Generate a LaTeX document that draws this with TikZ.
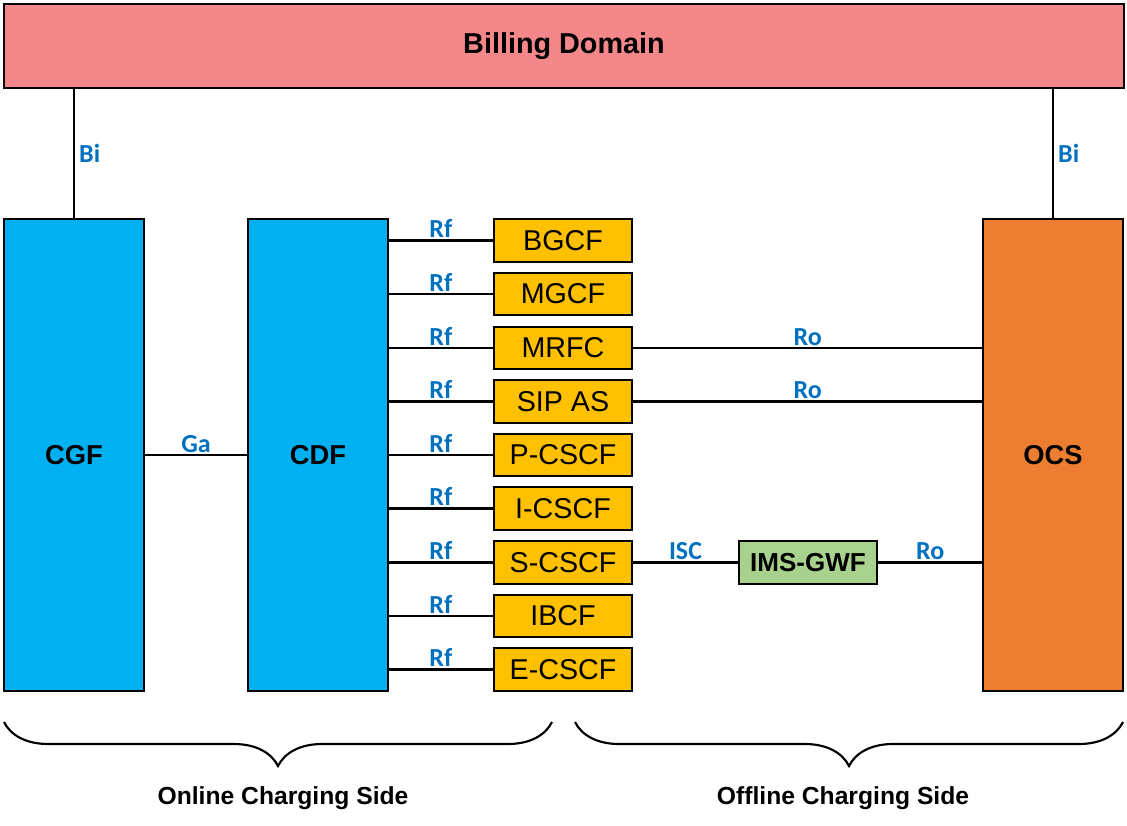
\documentclass[tikz,border=0pt]{standalone}
\usepackage{fontspec}
\setmainfont{Liberation Sans}
\newfontfamily\lblfont{Carlito}
\usetikzlibrary{positioning,decorations.pathreplacing}
\definecolor{billred}{HTML}{F4878A}
\definecolor{cfblue}{HTML}{00B0F0}
\definecolor{ocsorange}{HTML}{ED7D31}
\definecolor{nodeyellow}{HTML}{FFC000}
\definecolor{gwfgreen}{HTML}{A9D18E}
\definecolor{ifblue}{HTML}{0070C0}
\begin{document}
\begin{tikzpicture}[x=0.75pt,y=-0.75pt]
\tikzset{
  bigbox/.style={draw,line width=1.4pt,fill=cfblue,minimum width=105pt,minimum height=354pt,font=\fontsize{20.5}{24}\selectfont\bfseries},
  fbox/.style={draw,line width=1.4pt,fill=nodeyellow,minimum width=104pt,minimum height=32pt,inner sep=0pt,font=\fontsize{21.5}{25}\selectfont},
  ifl/.style={text=ifblue,font=\lblfont\fontsize{19.5}{23}\selectfont\bfseries,inner sep=1pt},
  conn/.style={line width=1.8pt},
  sidebrace/.style={line width=1.6pt,decorate,decoration={brace,mirror,amplitude=33pt}},
  sidelab/.style={font=\fontsize{18.5}{22}\selectfont\bfseries}
}
\useasboundingbox (0,0) rectangle (1127,825);
\node[draw,line width=1.4pt,fill=billred,minimum width=840pt,minimum height=63pt,font=\fontsize{21.6}{25}\selectfont\bfseries] (bd) at (564,46) {Billing Domain};
\node[bigbox] (cgf) at (74,455) {CGF};
\node[bigbox] (cdf) at (318,455) {CDF};
\node[bigbox,fill=ocsorange] (ocs) at (1053,455) {OCS};
\node[fbox] (bgcf) at (563,240.5) {BGCF};
\node[fbox] (mgcf) at (563,294) {MGCF};
\node[fbox] (mrfc) at (563,348) {MRFC};
\node[fbox] (sipas) at (563,401.5) {SIP AS};
\node[fbox] (pcscf) at (563,455) {P-CSCF};
\node[fbox] (icscf) at (563,508.5) {I-CSCF};
\node[fbox] (scscf) at (563,562.5) {S-CSCF};
\node[fbox] (ibcf) at (563,616) {IBCF};
\node[fbox] (ecscf) at (563,669.5) {E-CSCF};
\node[fbox,fill=gwfgreen,font=\fontsize{19.5}{23}\selectfont\bfseries] (gwf) at (808,562.5) {IMS-GWF};
% Bi interfaces
\draw[conn] (cgf.north) -- (cgf.north |- bd.south) node[midway,right,ifl,xshift=2pt] {Bi};
\draw[conn] (ocs.north) -- (ocs.north |- bd.south) node[midway,right,ifl,xshift=2pt] {Bi};
\draw[conn] (cgf) -- (cdf) node[midway,above,ifl] {Ga};
% Rf interfaces
\foreach \f in {bgcf,mgcf,mrfc,sipas,pcscf,icscf,scscf,ibcf,ecscf}
  \draw[conn] (cdf.east |- \f) -- (\f.west) node[midway,above,ifl] {Rf};
% Ro / ISC interfaces
\draw[conn] (mrfc.east) -- (ocs.west |- mrfc) node[midway,above,ifl] {Ro};
\draw[conn] (sipas.east) -- (ocs.west |- sipas) node[midway,above,ifl] {Ro};
\draw[conn] (scscf.east) -- (gwf.west) node[midway,above,ifl] {ISC};
\draw[conn] (gwf.east) -- (ocs.west |- gwf) node[midway,above,ifl] {Ro};
% charging sides
\coordinate (onl) at (4,722);
\coordinate (onr) at (552,722);
\coordinate (offl) at (575,722);
\coordinate (offr) at (1123,722);
\draw[sidebrace] (onl) -- (onr);
\draw[sidebrace] (offl) -- (offr);
\node[sidelab] (onlab) at (283,798) {Online Charging Side};
\node[sidelab] (offlab) at (843,798) {Offline Charging Side};
\end{tikzpicture}
\end{document}
